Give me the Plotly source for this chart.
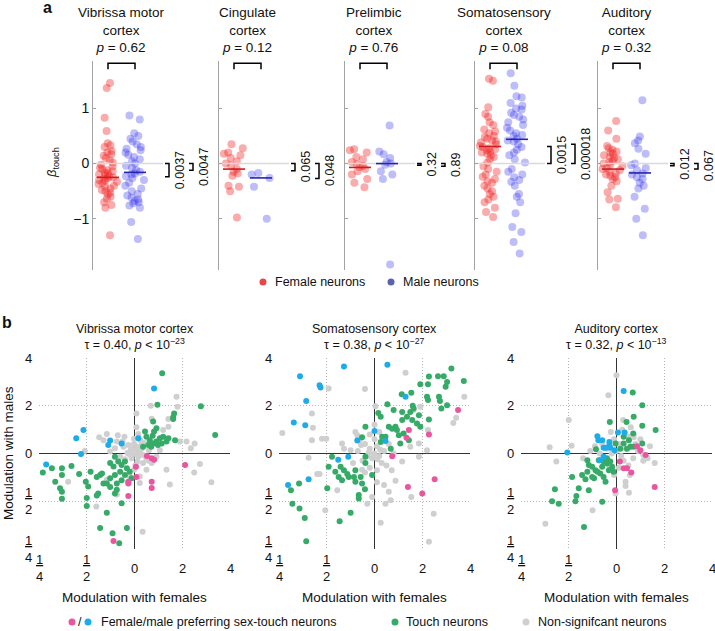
import plotly.graph_objects as go

W, H = 715, 631
FONT = "Liberation Sans, Arial, Helvetica, sans-serif"


def fx(p):
    return p / W


def fy(p):
    return 1 - p / H


# ---------------- Panel a data ----------------
a_regions = ["Vibrissa motor<br>cortex", "Cingulate<br>cortex", "Prelimbic<br>cortex",
             "Somatosensory<br>cortex", "Auditory<br>cortex"]
a_p_sex = ["0.62", "0.12", "0.76", "0.08", "0.32"]
a_p_female = ["0.0037", "0.065", "0.32", "0.0015", "0.012"]
a_p_male = ["0.0047", "0.048", "0.89", "0.000018", "0.067"]
a_mean_female = [-0.25, -0.10, -0.07, 0.31, -0.10]
a_mean_male = [-0.16, -0.26, 0.0, 0.44, -0.17]
a_bracket_female = [-0.24, -0.13, -0.03, 0.31, -0.04]
a_bracket_male = [-0.12, -0.27, -0.05, 0.35, -0.10]

female_vm = [1.46, 1.37, 0.83, 0.59, 0.37, 0.33, 0.3, 0.23, 0.2, 0.17, 0.14, 0.1, 0.06, 0.02,
             -0.02, -0.05, -0.08, -0.1, -0.12, -0.14, -0.16, -0.18, -0.2, -0.21, -0.23, -0.25,
             -0.26, -0.28, -0.3, -0.31, -0.33, -0.35, -0.37, -0.4, -0.42, -0.45, -0.48, -0.5,
             -0.53, -0.56, -0.6, -0.64, -0.7, -0.75, -0.8, -1.3]
male_vm = [0.87, 0.8, 0.55, 0.5, 0.45, 0.4, 0.35, 0.3, 0.27, 0.24, 0.2, 0.16, 0.12, 0.08, 0.04,
           0.0, -0.04, -0.08, -0.12, -0.15, -0.18, -0.2, -0.23, -0.26, -0.3, -0.35, -0.4, -0.45,
           -0.5, -0.55, -0.58, -0.62, -0.65, -0.68, -0.7, -0.72, -0.76, -0.8, -1.06, -1.37]
female_cg = [0.35, 0.28, 0.2, 0.18, 0.15, 0.1, 0.04, 0.0, -0.03, -0.1, -0.15, -0.18, -0.22,
             -0.4, -0.42, -0.5, -0.98]
male_cg = [-0.17, -0.2, -0.26, -0.42, -1.0]
female_pl = [0.26, 0.24, 0.2, 0.12, 0.08, 0.03, -0.01, -0.04, -0.06, -0.1, -0.14, -0.2, -0.28,
             -0.35, -0.43]
male_pl = [0.69, 0.22, 0.17, 0.1, 0.03, 0.0, -0.02, -0.14, -0.2, -0.28, -1.83]
female_ss = [1.54, 1.5, 1.02, 0.9, 0.85, 0.75, 0.7, 0.62, 0.58, 0.55, 0.5, 0.48, 0.45, 0.42,
             0.4, 0.38, 0.35, 0.32, 0.3, 0.28, 0.26, 0.24, 0.22, 0.2, 0.18, 0.15, 0.12, 0.08,
             0.02, -0.05, -0.1, -0.15, -0.2, -0.24, -0.28, -0.32, -0.35, -0.4, -0.45, -0.5,
             -0.55, -0.6, -0.65, -0.7, -0.8, -0.88, -0.97]
male_ss = [1.64, 1.41, 1.22, 1.2, 1.1, 1.05, 1.0, 0.98, 0.92, 0.88, 0.85, 0.8, 0.75, 0.7, 0.65,
           0.6, 0.55, 0.52, 0.5, 0.45, 0.42, 0.4, 0.35, 0.3, 0.25, 0.2, 0.15, 0.08, 0.02, -0.1,
           -0.15, -0.2, -0.25, -0.3, -0.33, -0.4, -0.55, -0.6, -0.7, -0.9, -1.15, -1.24, -1.42,
           -1.63]
female_au = [0.77, 0.6, 0.45, 0.32, 0.28, 0.25, 0.22, 0.2, 0.18, 0.15, 0.12, 0.1, 0.08, 0.05,
             0.03, 0.0, -0.02, -0.05, -0.08, -0.1, -0.12, -0.15, -0.18, -0.2, -0.22, -0.25,
             -0.28, -0.32, -0.4, -0.52, -0.64, -0.65, -0.79]
male_au = [1.15, 0.49, 0.42, 0.37, 0.27, 0.18, 0.0, -0.03, -0.08, -0.12, -0.18, -0.2, -0.25,
           -0.28, -0.35, -0.4, -0.45, -0.6, -0.82, -1.0, -1.3]

a_female = [female_vm, female_cg, female_pl, female_ss, female_au]
a_male = [male_vm, male_cg, male_pl, male_ss, male_au]

# ---------------- Panel b data (log2 modulation; points as (females, males)) ----------------
b_titles = ["Vibrissa motor cortex<br>τ = 0.40, <i>p</i> < 10<sup>−23</sup>",
            "Somatosensory cortex<br>τ = 0.38, <i>p</i> < 10<sup>−27</sup>",
            "Auditory cortex<br>τ = 0.32, <i>p</i> < 10<sup>−13</sup>"]
b_tickvals = [-2, -1, 0, 1, 2]
b_ticktext = ["<u>1</u><br>4", "<u>1</u><br>2", "0", "2", "4"]

vm_gray = [(-0.01, 0.2), (0.06, 0.14), (-0.08, 0.07), (0.11, 0.03), (0.01, -0.01), (0.18, -0.03),
           (-0.15, 0.01), (0.08, -0.07), (-0.06, -0.1), (0.25, -0.1), (-0.23, 0.14), (0.15, 0.18),
           (0.3, 0.07), (-0.3, -0.07), (0.06, -0.17), (-0.13, 0.18), (0.18, -0.2), (-0.01, 0.31),
           (0.08, 0.41), (0.04, 0.55), (0.04, 0.84), (0.34, 1.0), (0.88, 1.19), (0.9, 0.98),
           (0.71, 0.56), (0.95, 0.25), (1.18, 0.11), (1.37, -0.22), (1.25, -0.4), (0.74, -0.65),
           (0.17, -1.64), (-0.37, -0.86), (-1.39, -0.59), (-0.8, -1.11), (-0.74, 0.34),
           (-0.58, 0.41), (-0.41, 0.11), (-0.51, 0.04), (-0.65, 0.28), (0.46, -0.07), (0.53, 0.07),
           (0.36, -0.2), (0.25, -0.34), (0.11, -0.48), (-0.01, -0.34), (-0.1, -0.48), (0.11, -0.62),
           (0.67, -0.34), (0.6, 0.49), (-0.37, 0.25), (-1.04, 0.05), (1.09, 0.25), (1.26, 0.21),
           (-0.35, 0.38), (-0.21, 0.35), (0.36, 0.73), (0.71, 0.72), (0.05, 0.05), (-0.05, 0.1),
           (0.15, 0.1), (-0.1, -0.02), (0.2, 0.22), (-0.2, -0.12), (0.02, -0.25), (0.3, -0.15),
           (-0.25, 0.25), (0.12, 0.28), (1.61, -0.6), (-0.58, -0.55)]
vm_green = [(0.58, 1.68), (0.48, 1.02), (1.39, 0.99), (1.69, 0.39), (0.83, 0.84), (0.81, 0.76),
            (0.81, 0.72), (0.39, 0.67), (0.46, 0.53), (0.22, 0.46), (0.85, 0.28), (0.25, 0.35),
            (0.32, 0.28), (0.39, 0.21), (0.46, 0.25), (0.53, 0.32), (0.6, 0.35), (0.49, 0.18),
            (0.35, 0.14), (0.29, 0.18), (0.18, 0.14), (0.67, 0.25), (0.57, 0.21), (0.71, 0.32),
            (0.38, 0.37), (0.41, 0.46),
            (-1.92, -0.4), (-1.73, -0.31), (-1.52, -0.31), (-1.52, -0.45), (-1.66, -0.59),
            (-1.56, -0.73), (-1.52, -0.8), (-1.52, -0.95), (-1.16, -0.43), (-1.02, -0.59),
            (-1.0, -0.93), (-1.0, -1.1), (-0.92, -0.38), (-0.79, -0.49), (-0.72, -0.45),
            (-0.68, -0.42), (-0.79, -0.88), (-0.76, -0.84), (-0.65, -0.63), (-0.58, -1.24),
            (-0.72, -1.56), (-0.46, -1.67), (-0.32, -1.88), (-0.16, -1.56), (-0.27, -1.04),
            (-0.37, -0.76), (-0.41, -0.07), (-0.51, -0.2), (-0.44, -0.27), (-0.34, -0.17),
            (-0.27, -0.24), (-0.2, -0.17), (-0.16, -0.31), (-0.3, -0.38), (-0.41, -0.45),
            (-0.51, -0.52), (-0.2, -0.45), (-0.1, -0.38), (-0.27, -0.56), (-0.58, -0.63),
            (-0.51, -0.7), (-0.37, -0.63), (-0.97, -0.69), (-1.32, -0.26), (-0.41, -0.84),
            (-0.06, -0.52)]
vm_pink = [(0.26, -0.05), (0.36, -0.1), (0.41, -0.13), (0.03, -0.28), (0.04, -0.49),
           (-0.13, -0.59), (-0.13, -0.63), (-0.13, -0.89), (0.36, -0.59), (0.36, -0.72),
           (1.06, -0.24), (-0.44, -1.83)]
vm_blue = [(0.41, 1.36), (-1.07, 0.49), (-1.22, 0.32), (-0.51, 0.27), (-0.55, 0.18),
           (-0.27, 0.21), (-1.12, -0.01), (-1.85, -0.23), (0.08, 0.32)]

ss_gray = [(-1.93, 0.43), (-1.29, 0.54), (-1.31, 0.28), (-1.38, -0.09), (-1.2, -0.43),
           (-1.15, -0.43), (-0.96, 1.36), (-0.2, 1.35), (0.65, 1.69), (0.02, 0.99), (-1.01, 0.31),
           (-0.4, 0.45), (-0.36, 0.38), (-0.5, 0.07), (-0.64, 0.1), (-0.68, 0.21), (-0.78, -0.77),
           (-1.03, -1.19), (0.13, -1.45), (0.23, -1.05), (0.34, -0.98), (0.3, -0.8), (0.2, -0.66),
           (0.77, -0.91), (1.24, -1.26), (1.14, -1.85), (0.44, -0.57), (0.36, -0.35), (0.58, -0.17),
           (0.75, 0.14), (0.93, 0.21), (1.1, 0.07), (1.12, 0.49), (0.93, -0.07), (0.96, 0.98),
           (0.82, 0.91), (1.65, 0.64), (1.71, 0.75), (1.88, 1.19), (-1.31, 0.84), (-1.1, 0.31),
           (-0.26, -0.34), (-0.05, -0.91), (-0.15, -1.05),
           (-0.3, 0.3), (-0.2, 0.2), (-0.1, 0.1), (0.0, 0.0), (0.1, -0.05), (-0.05, -0.1),
           (0.05, 0.15), (-0.15, -0.05), (0.2, 0.05), (0.15, -0.2), (-0.25, -0.15), (-0.1, -0.3),
           (0.05, -0.35), (0.25, -0.25), (-0.35, 0.05), (0.3, 0.2), (0.0, 0.3), (-0.1, 0.4),
           (0.1, 0.45), (-0.2, -0.4), (0.12, 0.08), (-0.02, -0.02), (0.06, -0.12), (-0.12, 0.02),
           (0.18, 0.28), (-0.28, 0.18), (0.0, 0.6), (0.05, -0.6), (-0.45, -0.2), (0.4, 0.0)]
ss_green = [(1.61, 1.78), (1.87, 1.52), (1.33, 1.62), (1.45, 1.62), (1.52, 1.5), (1.49, 1.4),
            (1.14, 1.61), (0.96, 1.45), (1.12, 1.45), (0.57, 1.24), (0.77, 1.27), (1.35, 1.19),
            (1.37, 1.1), (1.4, 0.94), (1.52, 1.01), (1.1, 1.19), (1.12, 1.12), (0.27, 1.03),
            (0.4, 0.91), (0.08, 0.85), (0.8, 1.0), (0.82, 0.94), (0.75, 0.87), (0.93, 0.8),
            (1.14, 0.71), (0.58, 0.7), (0.44, 0.56), (0.47, 0.49), (0.3, 0.56), (0.37, 0.52),
            (0.16, 0.35), (0.23, 0.35), (0.13, 0.24), (0.34, 0.1), (0.54, 0.21), (0.72, 0.28),
            (-0.19, 0.56), (-0.26, 0.34), (0.13, 0.77), (0.61, 0.42), (0.51, 0.38), (0.79, 0.7),
            (0.89, 0.63), (0.96, 0.56), (0.58, 0.87), (0.68, 0.77),
            (-0.19, -0.07), (-0.4, -0.35), (-0.96, -0.28), (-0.71, -0.28), (-0.64, -0.35),
            (-0.57, -0.43), (-0.54, -0.49), (-0.43, -0.49), (-0.4, -0.59), (-0.82, -0.38),
            (-0.75, -0.49), (-0.68, -0.56), (-0.29, -0.49), (-0.26, -0.63), (-0.2, -0.75),
            (-0.33, -0.87), (-0.33, -0.94), (-0.05, -0.45), (-0.99, -0.73), (-0.5, -1.24),
            (-0.73, -1.42), (-1.58, -0.63), (-1.75, -0.77), (-1.72, -1.05), (-1.57, -1.15),
            (-1.46, -1.35), (-1.43, -1.84), (-0.89, -0.07), (-0.19, -0.2)]
ss_pink = [(1.75, 0.91), (0.72, 0.49), (1.14, 0.4), (0.67, 0.33), (0.37, -0.06), (0.7, -0.7),
           (1.26, -0.54), (1.0, -0.84)]
ss_blue = [(-1.56, 1.62), (-0.64, 1.82), (0.27, 1.86), (-1.15, 1.43), (-1.13, 1.38), (-1.43, 1.1),
           (0.65, 1.19), (-1.69, 0.65), (-1.45, 0.59), (-0.36, 0.27), (0.0, 0.47), (0.23, 0.26),
           (-0.76, -0.13), (-0.55, -0.07), (-1.81, -0.66), (-1.38, -0.54)]

au_gray = [(0.0, 1.64), (-0.17, 1.22), (-1.0, 0.7), (-1.4, 0.13), (-1.26, -0.17), (-0.94, 0.16),
           (-1.49, -1.47), (-0.5, -1.19), (-0.02, -0.84), (0.19, -0.59), (0.19, -0.68),
           (0.26, -0.82), (0.56, -0.15), (0.56, -0.03), (0.36, 0.34), (0.14, 0.7), (0.36, 0.4),
           (0.5, 0.3), (0.7, 0.15), (0.65, -0.1), (0.8, -0.2), (-0.7, -0.1), (-0.55, 0.05),
           (0.28, -0.45),
           (-0.3, 0.2), (-0.2, 0.1), (-0.1, 0.0), (0.0, 0.05), (0.1, -0.05), (0.2, 0.1),
           (0.3, 0.15), (-0.25, -0.1), (0.15, -0.15), (0.05, 0.2), (-0.05, 0.3), (0.25, 0.35),
           (0.35, -0.1), (-0.15, -0.25), (0.05, -0.3), (0.25, -0.25), (-0.35, 0.0), (0.4, 0.2),
           (0.12, 0.5), (-0.12, 0.45), (0.3, 0.55), (-0.05, -0.45), (0.45, 0.05), (-0.45, 0.15)]
au_green = [(0.34, 1.28), (0.54, 1.01), (0.36, 0.77), (0.54, 0.58), (0.82, 0.49), (0.21, 0.66),
            (-0.14, 0.66), (0.35, 0.42), (0.26, 0.28), (0.15, 0.21), (0.08, 0.1), (0.22, 0.1),
            (0.29, 0.14), (0.36, 0.14), (0.54, 0.21), (-0.43, 0.09), (-0.61, -0.14),
            (-0.58, -0.24), (-0.51, -0.28), (-0.61, -0.38), (-0.72, -0.45), (-0.65, -0.54),
            (-0.93, -0.49), (-0.4, -0.38), (-0.3, -0.28), (-0.27, -0.17), (-0.2, -0.21),
            (-0.13, -0.17), (-0.09, -0.28), (-0.23, -0.59), (-0.34, -0.42), (-0.47, -0.52),
            (-0.58, -0.77), (-0.79, -0.73), (-0.84, -0.89), (-0.86, -1.0), (-1.29, -0.75),
            (-1.35, -1.0), (-1.21, -1.05), (-0.3, -1.01), (-0.68, -1.54), (-0.2, -0.1),
            (-0.37, -0.14), (-0.16, -0.35), (-0.27, -0.49), (-0.44, -0.35), (-0.06, -0.38),
            (-0.02, 0.21), (0.15, 0.35), (-0.51, -0.49)]
au_pink = [(0.43, 0.15), (0.5, 0.07), (0.61, -0.03), (0.07, -0.17), (0.15, -0.31), (0.22, -0.31),
           (0.31, -0.4), (0.8, -0.7), (-0.03, -0.77)]
au_blue = [(0.15, 1.31), (0.03, 0.44), (0.17, 0.44), (-0.4, 0.36), (-0.38, 0.28), (-0.3, 0.28),
           (-0.15, 0.24), (-0.15, 0.17), (-0.27, 0.12), (-0.22, 0.12), (-0.13, 0.12), (-0.04, 0.07),
           (-1.03, 0.02), (-0.27, -0.07), (-0.35, -0.14)]

b_sets = [
    [vm_gray, vm_green, vm_pink, vm_blue],
    [ss_gray, ss_green, ss_pink, ss_blue],
    [au_gray, au_green, au_pink, au_blue],
]

# ---------------- styles / layout constants ----------------
C_FEMALE_PT = "rgba(242,35,35,0.38)"
C_MALE_PT = "rgba(35,35,238,0.30)"
C_FEMALE_LINE = "#cf1d1d"
C_MALE_LINE = "#2323b5"
C_GRAY, C_GREEN, C_PINK, C_BLUE = "#cfcfcf", "#36ab68", "#ea559f", "#1eabea"
b_colors = [C_GRAY, C_GREEN, C_PINK, C_BLUE]

a_axis_px = [93, 219, 345, 475, 598]
a_width = [120, 120, 120, 120, 117]
A_TOP, A_BOT = 61, 270
Y_RANGE_A = [-1.93, 1.86]
FXP, MXP = 15, 42
BX1, BX2 = 76, 100

b_left_px = [39, 279, 521]
B_SIZE = 191
B_TOP, B_BOT = 358, 549

fig = go.Figure()
lay = dict(width=W, height=H, autosize=False, margin=dict(l=0, r=0, t=0, b=0, pad=0),
           paper_bgcolor="white", plot_bgcolor="rgba(0,0,0,0)", showlegend=False,
           font=dict(family=FONT, color="#111111", size=13))
ann = []


def axnames(n):
    s = "" if n == 1 else str(n)
    return "xaxis" + s, "yaxis" + s, "x" + s, "y" + s


# ---------------- Panel a ----------------
for i in range(5):
    xk, yk, xr, yr = axnames(i + 1)
    lay[xk] = dict(domain=[fx(a_axis_px[i]), fx(a_axis_px[i] + a_width[i])],
                   range=[0, a_width[i]], visible=False, anchor=yr, fixedrange=True,
                   automargin=False)
    lay[yk] = dict(domain=[fy(A_BOT), fy(A_TOP)], range=Y_RANGE_A, anchor=xr,
                   showline=True, linecolor="#a3a3a3", linewidth=1, ticks="inside",
                   ticklen=3, tickcolor="#a3a3a3", tickvals=[-1, 0, 1],
                   ticktext=["−1", "0", "1"], showticklabels=(i == 0), showgrid=False,
                   zeroline=False, tickfont=dict(size=14), fixedrange=True, automargin=False)
    fig.add_trace(go.Scatter(x=[0, 70], y=[0, 0], mode="lines",
                             line=dict(color="#dadada", width=1.5), xaxis=xr, yaxis=yr,
                             hoverinfo="skip"))
    for vals, xpos, col in [(a_female[i], FXP, C_FEMALE_PT), (a_male[i], MXP, C_MALE_PT)]:
        fig.add_trace(go.Box(y=vals, x0=xpos, width=22, boxpoints="all", jitter=1, pointpos=0,
                             fillcolor="rgba(0,0,0,0)", line=dict(width=0, color="rgba(0,0,0,0)"),
                             whiskerwidth=0, marker=dict(size=8, color=col, line=dict(width=0)),
                             xaxis=xr, yaxis=yr, hoverinfo="y"))
    for m, xpos, col in [(a_mean_female[i], FXP, C_FEMALE_LINE), (a_mean_male[i], MXP, C_MALE_LINE)]:
        fig.add_trace(go.Scatter(x=[xpos - 11, xpos + 11], y=[m, m], mode="lines",
                                 line=dict(color=col, width=1.6), xaxis=xr, yaxis=yr,
                                 hoverinfo="skip"))
    # sex-comparison bracket
    fig.add_trace(go.Scatter(x=[FXP, FXP, MXP, MXP], y=[1.71, 1.82, 1.82, 1.71], mode="lines",
                             line=dict(color="black", width=1.5), xaxis=xr, yaxis=yr,
                             hoverinfo="skip"))
    # brackets versus zero
    for bx, be, ptxt in [(BX1, a_bracket_female[i], a_p_female[i]),
                         (BX2, a_bracket_male[i], a_p_male[i])]:
        fig.add_trace(go.Scatter(x=[bx - 4, bx, bx, bx - 4], y=[0, 0, be, be], mode="lines",
                                 line=dict(color="black", width=1.5), xaxis=xr, yaxis=yr,
                                 hoverinfo="skip"))
        ann.append(dict(xref=xr, yref=yr, x=bx + 2, y=be / 2, text=ptxt, textangle=-90,
                        xanchor="left", yanchor="middle", showarrow=False,
                        font=dict(size=12.5)))
    ann.append(dict(xref=xr, yref="paper", x=(FXP + MXP) / 2, y=fy(30),
                    text=a_regions[i] + "<br><i>p</i> = " + a_p_sex[i],
                    xanchor="center", yanchor="middle", showarrow=False,
                    font=dict(size=13.5)))

ann.append(dict(xref="paper", yref="paper", x=fx(52), y=fy(163),
                text="<i>β</i><sub>touch</sub>", textangle=-90, showarrow=False,
                xanchor="center", yanchor="middle", font=dict(size=13)))

# ---------------- Panel b ----------------
for j in range(3):
    n = 6 + j
    xk, yk, xr, yr = axnames(n)
    common = dict(range=[-2, 2], tickvals=b_tickvals, showgrid=True, gridcolor="#b5b5b5",
                  griddash="1px,2px", gridwidth=1, zeroline=True, zerolinecolor="#333333",
                  zerolinewidth=1.2, showline=False, ticks="", fixedrange=True,
                  automargin=False, showticklabels=False)
    lay[xk] = dict(domain=[fx(b_left_px[j]), fx(b_left_px[j] + B_SIZE)], anchor=yr, **common)
    lay[yk] = dict(domain=[fy(B_BOT), fy(B_TOP)], anchor=xr, **common)
    for pts, col in zip(b_sets[j], b_colors):
        fig.add_trace(go.Scatter(x=[p[0] for p in pts], y=[p[1] for p in pts], mode="markers",
                                 marker=dict(size=6, color=col, line=dict(width=0)),
                                 xaxis=xr, yaxis=yr, hoverinfo="x+y"))
    for tv, tt in zip(b_tickvals, b_ticktext):
        # x tick labels
        ann.append(dict(xref=xr, yref="paper", x=tv, y=fy(568), text=tt, showarrow=False,
                        xanchor="center", yanchor="middle", font=dict(size=13)))
        # y tick labels
        ann.append(dict(xref="paper", yref=yr, x=fx(b_left_px[j] - 5), y=tv, text=tt,
                        showarrow=False, xanchor="right", yanchor="middle",
                        font=dict(size=13)))
    cx = b_left_px[j] + B_SIZE / 2
    ann.append(dict(xref="paper", yref="paper", x=fx(cx), y=fy(337), text=b_titles[j],
                    showarrow=False, xanchor="center", yanchor="middle",
                    font=dict(size=12.5)))
    ann.append(dict(xref="paper", yref="paper", x=fx(cx), y=fy(597),
                    text="Modulation with females", showarrow=False, xanchor="center",
                    yanchor="middle", font=dict(size=13.5)))

ann.append(dict(xref="paper", yref="paper", x=fx(8), y=fy(453), text="Modulation with males",
                textangle=-90, showarrow=False, xanchor="center", yanchor="middle",
                font=dict(size=13.5)))

# panel letters
ann.append(dict(xref="paper", yref="paper", x=fx(47), y=fy(7), text="<b>a</b>",
                showarrow=False, xanchor="center", yanchor="middle", font=dict(size=16)))
ann.append(dict(xref="paper", yref="paper", x=fx(7), y=fy(322), text="<b>b</b>",
                showarrow=False, xanchor="center", yanchor="middle", font=dict(size=16)))

# ---------------- legends (overlay pixel axis) ----------------
lay["xaxis9"] = dict(domain=[0, 1], range=[0, W], visible=False, anchor="y9", fixedrange=True,
                     automargin=False)
lay["yaxis9"] = dict(domain=[0, 1], range=[H, 0], visible=False, anchor="x9", fixedrange=True,
                     automargin=False)
leg_x = [263, 391, 72, 88, 395, 526]
leg_y = [282, 282, 622, 622, 622, 622]
leg_c = ["#e34848", "#5a62b2", C_PINK, C_BLUE, C_GREEN, C_GRAY]
fig.add_trace(go.Scatter(x=leg_x, y=leg_y, mode="markers",
                         marker=dict(size=7, color=leg_c, line=dict(width=0)),
                         xaxis="x9", yaxis="y9", hoverinfo="skip"))
for tx, ty, txt, fs in [(273, 282, "Female neurons", 12.5), (401, 282, "Male neurons", 12.5),
                        (99, 622, "Female/male preferring sex-touch neurons", 12.5),
                        (404, 622, "Touch neurons", 12.5),
                        (536, 622, "Non-signifcant neurons", 12.5)]:
    ann.append(dict(xref="paper", yref="paper", x=fx(tx), y=fy(ty), text=txt, showarrow=False,
                    xanchor="left", yanchor="middle", font=dict(size=fs)))
ann.append(dict(xref="paper", yref="paper", x=fx(80), y=fy(622), text="/", showarrow=False,
                xanchor="center", yanchor="middle", font=dict(size=12.5)))

lay["annotations"] = ann
lay["boxmode"] = "overlay"
fig.update_layout(**lay)
fig.write_html("out.html", config={"displayModeBar": False, "staticPlot": True},
               post_script="document.body.style.margin='0';document.body.style.padding='0';")
